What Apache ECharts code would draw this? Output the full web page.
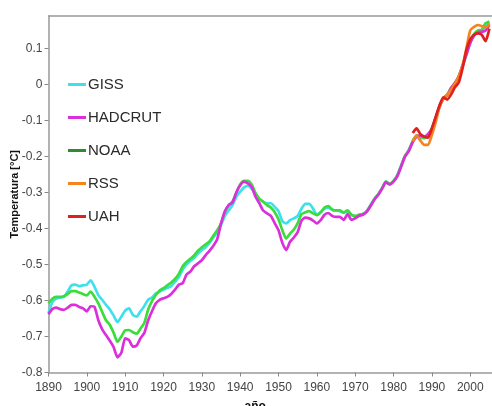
<!DOCTYPE html>
<html>
<head>
<meta charset="utf-8">
<script src="https://cdn.jsdelivr.net/npm/echarts@6/dist/echarts.min.js"></script>
<style>
  html, body { margin: 0; padding: 0; background: #ffffff; }
  #chart { width: 492px; height: 406px; }
</style>
</head>
<body>
<div id="chart"></div>
<script>
// Global temperature anomaly reconstructions (smoothed), °C
const years = [];
for (let y = 1890; y <= 2005; y++) years.push(y);

const giss = [
  -0.635, -0.605, -0.595, -0.592, -0.590, -0.575, -0.558, -0.556, -0.560, -0.558,
  -0.556, -0.544, -0.562, -0.585, -0.598, -0.612, -0.625, -0.642, -0.660, -0.645,
  -0.628, -0.622, -0.640, -0.645, -0.630, -0.615, -0.598, -0.592, -0.580, -0.575,
  -0.570, -0.565, -0.560, -0.548, -0.535, -0.515, -0.500, -0.490, -0.482, -0.470,
  -0.460, -0.452, -0.440, -0.425, -0.410, -0.390, -0.365, -0.350, -0.335, -0.312,
  -0.298, -0.286, -0.282, -0.290, -0.303, -0.318, -0.326, -0.330, -0.330, -0.340,
  -0.352, -0.380, -0.386, -0.377, -0.372, -0.365, -0.345, -0.332, -0.332, -0.345,
  -0.362, -0.355, -0.345, -0.342, -0.348, -0.350, -0.352, -0.356, -0.352, -0.362,
  -0.368, -0.362, -0.360, -0.352, -0.335, -0.318, -0.305, -0.288, -0.270, -0.276,
  -0.268, -0.252, -0.225, -0.200, -0.182, -0.158, -0.142, -0.148, -0.150, -0.140,
  -0.122, -0.095, -0.062, -0.040, -0.030, -0.012, 0.002, 0.020, 0.050, 0.085,
  0.115, 0.138, 0.148, 0.150, 0.162, 0.172
];

const hadcrut = [
  -0.638, -0.624, -0.620, -0.624, -0.626, -0.620, -0.612, -0.612, -0.618, -0.622,
  -0.630, -0.616, -0.618, -0.655, -0.680, -0.696, -0.712, -0.730, -0.758, -0.745,
  -0.705, -0.710, -0.728, -0.725, -0.705, -0.690, -0.655, -0.630, -0.608, -0.598,
  -0.594, -0.590, -0.582, -0.570, -0.556, -0.552, -0.528, -0.520, -0.505, -0.497,
  -0.488, -0.474, -0.462, -0.448, -0.430, -0.386, -0.352, -0.335, -0.328, -0.300,
  -0.280, -0.270, -0.275, -0.285, -0.312, -0.330, -0.350, -0.358, -0.365, -0.385,
  -0.405, -0.440, -0.460, -0.437, -0.425, -0.410, -0.378, -0.370, -0.372, -0.378,
  -0.386, -0.377, -0.362, -0.357, -0.365, -0.368, -0.368, -0.376, -0.360, -0.376,
  -0.372, -0.365, -0.362, -0.354, -0.338, -0.320, -0.307, -0.290, -0.272, -0.278,
  -0.270, -0.255, -0.228, -0.200, -0.185, -0.160, -0.145, -0.142, -0.145, -0.138,
  -0.125, -0.092, -0.062, -0.038, -0.030, -0.010, 0.004, 0.022, 0.052, 0.082,
  0.115, 0.135, 0.145, 0.146, 0.150, 0.165
];

const noaa = [
  -0.608, -0.595, -0.590, -0.590, -0.588, -0.582, -0.574, -0.574, -0.578, -0.582,
  -0.586, -0.575, -0.590, -0.608, -0.632, -0.655, -0.668, -0.690, -0.715, -0.700,
  -0.683, -0.682, -0.688, -0.692, -0.678, -0.662, -0.625, -0.602, -0.585, -0.572,
  -0.566, -0.558, -0.550, -0.540, -0.526, -0.505, -0.493, -0.484, -0.475, -0.462,
  -0.452, -0.444, -0.436, -0.420, -0.405, -0.386, -0.355, -0.336, -0.325, -0.300,
  -0.278, -0.268, -0.268, -0.278, -0.302, -0.318, -0.326, -0.335, -0.342, -0.355,
  -0.375, -0.405, -0.428, -0.414, -0.403, -0.385, -0.360, -0.355, -0.352, -0.358,
  -0.363, -0.355, -0.342, -0.338, -0.348, -0.350, -0.350, -0.356, -0.350, -0.362,
  -0.365, -0.362, -0.360, -0.352, -0.336, -0.318, -0.305, -0.288, -0.270, -0.276,
  -0.268, -0.252, -0.225, -0.198, -0.182, -0.158, -0.142, -0.145, -0.148, -0.138,
  -0.122, -0.093, -0.060, -0.038, -0.028, -0.010, 0.004, 0.022, 0.052, 0.085,
  0.118, 0.140, 0.150, 0.152, 0.170, 0.175
];

// Satellite records start in the mid 1980s
const satYears = [];
for (let y = 1985; y <= 2005; y++) satYears.push(y);

const rss = [
  -0.158, -0.142, -0.156, -0.168, -0.168, -0.140, -0.105, -0.062, -0.040, -0.028,
  -0.015, 0.002, 0.022, 0.052, 0.100, 0.150, 0.160, 0.165, 0.162, 0.158, 0.168
];

const uah = [
  -0.135, -0.122, -0.138, -0.145, -0.148, -0.122, -0.090, -0.058, -0.036, -0.042,
  -0.028, -0.008, 0.005, 0.045, 0.095, 0.125, 0.138, 0.142, 0.138, 0.120, 0.155
];

const legendNames = ['GISS', 'HADCRUT', 'NOAA', 'RSS', 'UAH'];
const colors = {
  GISS: '#3fe0ee',
  HADCRUT: '#dc2fdc',
  NOAA: '#3ddc3d',
  RSS: '#f5841f',
  UAH: '#e0201e'
};

const pairs = (xs, vs) => xs.map((x, i) => [x, vs[i]]);

function lineSeries(name, data) {
  return {
    name: name,
    type: 'line',
    data: data,
    showSymbol: false,
    smooth: 0.2,
    lineStyle: { width: 2.7, color: colors[name] },
    itemStyle: { color: colors[name] },
    emphasis: { disabled: true }
  };
}

const chart = echarts.init(document.getElementById('chart'), null, { renderer: 'canvas' });

const font = "'Liberation Sans', Arial, sans-serif";
const frameColor = '#999999';

chart.setOption({
  backgroundColor: '#ffffff',
  animation: false,
  grid: {
    left: 48.5,
    right: -2,
    top: 16,
    bottom: 33.5,
    outerBoundsMode: 'none',
    containLabel: false
  },
  legend: {
    orient: 'vertical',
    left: 63,
    top: 71,
    icon: 'rect',
    itemWidth: 18,
    itemHeight: 3,
    itemGap: 16,
    data: legendNames.map(n => n === 'NOAA'
      ? { name: n, itemStyle: { color: '#2e8b2e' } }
      : { name: n }),
    textStyle: {
      fontFamily: font,
      fontSize: 15,
      color: '#2a2a2a',
      lineHeight: 17,
      padding: [0, 0, 0, -3]
    }
  },
  xAxis: [
    {
      type: 'value',
      min: 1890,
      max: 2006.2,
      interval: 10,
      name: 'año',
      nameLocation: 'middle',
      nameGap: 28,
      nameMoveOverlap: false,
      nameTextStyle: {
        fontFamily: font,
        fontSize: 12,
        fontWeight: 'bold',
        color: '#111',
        padding: [0, 32, 0, 0]
      },
      axisLine: { show: true, onZero: false, lineStyle: { color: frameColor, width: 1.5 } },
      axisTick: { show: true, length: 4, lineStyle: { color: '#888888' } },
      axisLabel: {
        fontFamily: font,
        fontSize: 12,
        color: '#444444',
        margin: 9,
        showMaxLabel: false,
        formatter: v => (Math.abs(v % 10) < 1e-6 ? String(Math.round(v)) : '')
      },
      splitLine: { show: false }
    },
    {
      // top frame line
      type: 'value',
      position: 'top',
      min: 1890,
      max: 2006.2,
      axisLine: { show: true, onZero: false, lineStyle: { color: frameColor, width: 1.5 } },
      axisTick: { show: false },
      axisLabel: { show: false },
      splitLine: { show: false }
    }
  ],
  yAxis: {
    type: 'value',
    min: -0.8,
    max: 0.19,
    interval: 0.1,
    name: 'Temperatura [°C]',
    nameLocation: 'middle',
    nameGap: 28.5,
    nameMoveOverlap: false,
    nameRotate: 90,
    nameTextStyle: {
      fontFamily: font,
      fontSize: 11,
      fontWeight: 'bold',
      color: '#111'
    },
    axisLine: { show: true, onZero: false, lineStyle: { color: frameColor, width: 1.5 } },
    axisTick: { show: true, length: 4, lineStyle: { color: '#888888' } },
    axisLabel: {
      fontFamily: font,
      fontSize: 12,
      color: '#444444',
      margin: 6,
      showMaxLabel: false,
      formatter: v => String(Math.round(v * 10) / 10)
    },
    splitLine: { show: false }
  },
  series: [
    lineSeries('GISS', pairs(years, giss)),
    lineSeries('NOAA', pairs(years, noaa)),
    lineSeries('HADCRUT', pairs(years, hadcrut)),
    lineSeries('RSS', pairs(satYears, rss)),
    lineSeries('UAH', pairs(satYears, uah))
  ]
});
</script>
</body>
</html>
